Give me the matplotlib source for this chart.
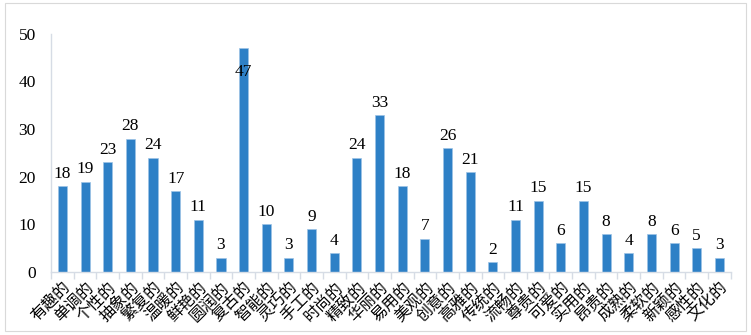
import matplotlib
matplotlib.use('Agg')
import matplotlib.pyplot as plt
import numpy as np
from matplotlib.patches import Rectangle

# ── данные ─────────────────────────────────────────────
labels = ['有趣的', '单调的', '个性的', '抽象的', '繁复的', '温暖的', '鲜艳的', '圆润的',
          '复古的', '智能的', '灵巧的', '手工的', '时尚的', '精致的', '华丽的', '易用的',
          '美观的', '创意的', '高雅的', '传统的', '流畅的', '尊贵的', '可爱的', '实用的',
          '昂贵的', '成熟的', '柔软的', '新颖的', '感性的', '文化的']
values = [18, 19, 23, 28, 24, 17, 11, 3, 47, 10, 3, 9, 4, 24, 33, 18,
          7, 26, 21, 2, 11, 15, 6, 15, 8, 4, 8, 6, 5, 3]
y_ticks = [0, 10, 20, 30, 40, 50]
Y_MAX = 50

BAR_C = '#2E80C6'
AXIS_C = '#D6DCE5'

plt.rcParams['font.family'] = ['Liberation Serif', 'Noto Sans CJK SC']

fig = plt.figure(figsize=(7.51, 3.35), dpi=100)
fig.patches.append(Rectangle((0.006, 0.012), 0.988, 0.978, transform=fig.transFigure,
                             fill=False, ec='#D9D9D9', lw=0.8))
ax = fig.add_axes([0.068, 0.188, 0.905, 0.711])

x = np.arange(len(values))
ax.bar(x, values, width=0.4, color=BAR_C, edgecolor='#9DC3E6', lw=0.5, zorder=2)

for xi, v in zip(x, values):
    if v + 4 > Y_MAX:
        # не влезает сверху — подпись внутри столбца, как в Excel
        ax.text(xi, v - 3.3, str(v), ha='center', va='top', fontsize=12.5, zorder=3)
    else:
        ax.text(xi, v + 0.9, str(v), ha='center', va='bottom', fontsize=12.5)

ax.set_xlim(-0.5, len(values) - 0.5)
ax.set_ylim(0, Y_MAX)
ax.set_yticks(y_ticks)
ax.tick_params(axis='y', length=0, labelsize=12.5, pad=11)

ax.set_xticks(x)
ax.set_xticklabels(labels, rotation=45, ha='right', rotation_mode='anchor',
                   family=['Noto Sans CJK SC'], fontsize=11.5)
ax.tick_params(axis='x', which='major', length=0, pad=5)
ax.set_xticks(np.arange(-0.5, len(values), 1), minor=True)
ax.tick_params(axis='x', which='minor', length=5, color=AXIS_C, width=1)

for s in ['top', 'right']:
    ax.spines[s].set_visible(False)
ax.spines['left'].set_color(AXIS_C)
ax.spines['bottom'].set_color(AXIS_C)
ax.spines['left'].set_linewidth(1)
ax.spines['bottom'].set_linewidth(1)

fig.savefig('out.png', dpi=100)
